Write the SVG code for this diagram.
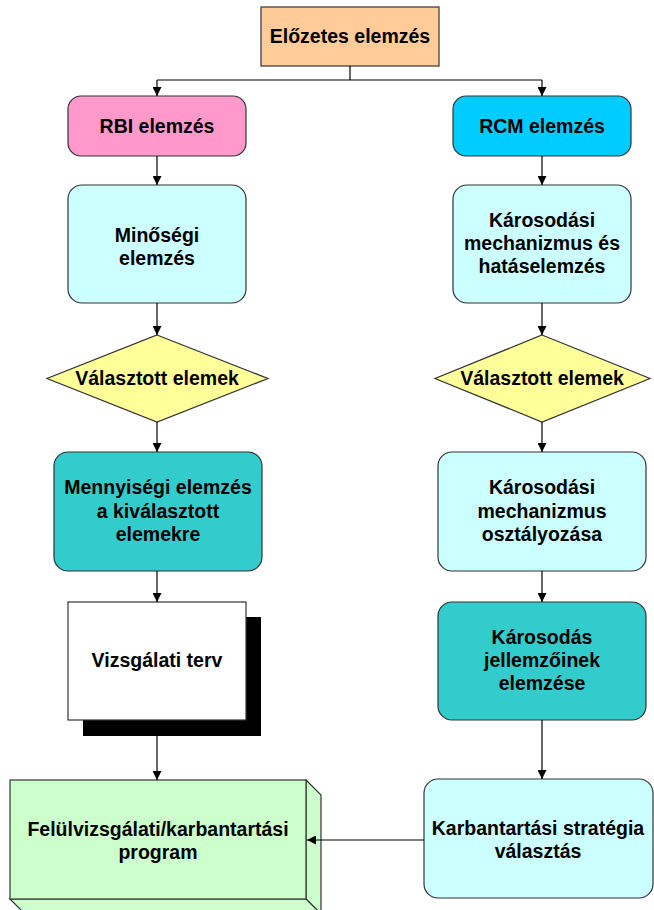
<svg xmlns="http://www.w3.org/2000/svg" width="654" height="910" viewBox="0 0 654 910">
<style>
  .box { stroke: #333333; stroke-width: 1.2; }
  .t { font-family: "Liberation Sans", Arial, sans-serif; font-weight: bold; font-size: 19.5px; fill: #000; text-anchor: middle; }
  .c { stroke: #000; stroke-width: 1.2; fill: none; }
</style>
<defs>
  <marker id="arr" viewBox="0 0 10 10" refX="10" refY="5" markerWidth="9" markerHeight="9" markerUnits="userSpaceOnUse" orient="auto">
    <path d="M0,0 L10,5 L0,10 z" fill="#000"/>
  </marker>
</defs>
<rect width="654" height="910" fill="#fff"/>

<g id="elozetes">
  <rect class="box" x="261" y="7" width="178" height="59" fill="#FFCC99"/>
  <text class="t" x="350" y="43">Előzetes elemzés</text>
</g>

<g id="rbi">
  <rect class="box" x="68" y="96" width="178" height="60" rx="13" fill="#FF99CC"/>
  <text class="t" x="157" y="133">RBI elemzés</text>
</g>

<g id="rcm">
  <rect class="box" x="453" y="96" width="178" height="60" rx="13" fill="#00CCFF"/>
  <text class="t" x="542" y="133">RCM elemzés</text>
</g>

<g id="minosegi">
  <rect class="box" x="68" y="185" width="178" height="118" rx="14" fill="#CCFFFF"/>
  <text class="t" x="157" y="242">Minőségi</text>
  <text class="t" x="157" y="265">elemzés</text>
</g>

<g id="karosodasi-mech">
  <rect class="box" x="453" y="185" width="178" height="118" rx="14" fill="#CCFFFF"/>
  <text class="t" x="542" y="227">Károsodási</text>
  <text class="t" x="542" y="250">mechanizmus és</text>
  <text class="t" x="542" y="273">hatáselemzés</text>
</g>

<g id="valasztott-bal">
  <polygon class="box" points="157,335 268,378.5 157,422 47,378.5" fill="#FFFF99"/>
  <text class="t" x="157" y="385">Választott elemek</text>
</g>

<g id="valasztott-jobb">
  <polygon class="box" points="542,335 650,378.5 542,422 435,378.5" fill="#FFFF99"/>
  <text class="t" x="542" y="385">Választott elemek</text>
</g>

<g id="mennyisegi">
  <rect class="box" x="54" y="452" width="208" height="119" rx="14" fill="#33CCCC"/>
  <text class="t" x="158" y="494">Mennyiségi elemzés</text>
  <text class="t" x="158" y="517.5">a kiválasztott</text>
  <text class="t" x="158" y="541">elemekre</text>
</g>

<g id="osztalyozas">
  <rect class="box" x="438" y="452" width="208" height="119" rx="14" fill="#CCFFFF"/>
  <text class="t" x="542" y="494">Károsodási</text>
  <text class="t" x="542" y="517.5">mechanizmus</text>
  <text class="t" x="542" y="541">osztályozása</text>
</g>

<g id="vizsgalati-terv">
  <rect x="83" y="617" width="178" height="119" fill="#000"/>
  <rect class="box" x="68" y="602" width="178" height="118" fill="#FFFFFF" stroke="#666"/>
  <text class="t" x="157" y="667">Vizsgálati terv</text>
</g>

<g id="jellemzok">
  <rect class="box" x="438" y="602" width="208" height="118" rx="14" fill="#33CCCC"/>
  <text class="t" x="542" y="643.5">Károsodás</text>
  <text class="t" x="542" y="667">jellemzőinek</text>
  <text class="t" x="542" y="690">elemzése</text>
</g>

<g id="program">
  <polygon class="box" points="306,780 321,795 321,914 306,899" fill="#CCFFCC"/>
  <polygon class="box" points="10,899 306,899 321,914 25,914" fill="#CCFFCC"/>
  <rect class="box" x="10" y="780" width="296" height="119" fill="#CCFFCC"/>
  <text class="t" x="158" y="836">Felülvizsgálati/karbantartási</text>
  <text class="t" x="158" y="859">program</text>
</g>

<g id="strategia">
  <rect class="box" x="424" y="779" width="229" height="119" rx="14" fill="#CCFFFF"/>
  <text class="t" x="538" y="835">Karbantartási stratégia</text>
  <text class="t" x="538" y="858">választás</text>
</g>

<g id="connectors">
  <path class="c" d="M350,66 V80 M157,80 H542"/>
  <path class="c" d="M157,80 V96" marker-end="url(#arr)"/>
  <path class="c" d="M542,80 V96" marker-end="url(#arr)"/>
  <path class="c" d="M157,156 V185" marker-end="url(#arr)"/>
  <path class="c" d="M542,156 V185" marker-end="url(#arr)"/>
  <path class="c" d="M157,303 V335" marker-end="url(#arr)"/>
  <path class="c" d="M542,303 V335" marker-end="url(#arr)"/>
  <path class="c" d="M157,422 V452" marker-end="url(#arr)"/>
  <path class="c" d="M542,422 V452" marker-end="url(#arr)"/>
  <path class="c" d="M157,571 V602" marker-end="url(#arr)"/>
  <path class="c" d="M542,571 V602" marker-end="url(#arr)"/>
  <path class="c" d="M157,736 V780" marker-end="url(#arr)"/>
  <path class="c" d="M542,720 V779" marker-end="url(#arr)"/>
  <path class="c" d="M424,840 H307" marker-end="url(#arr)"/>
</g>
</svg>
